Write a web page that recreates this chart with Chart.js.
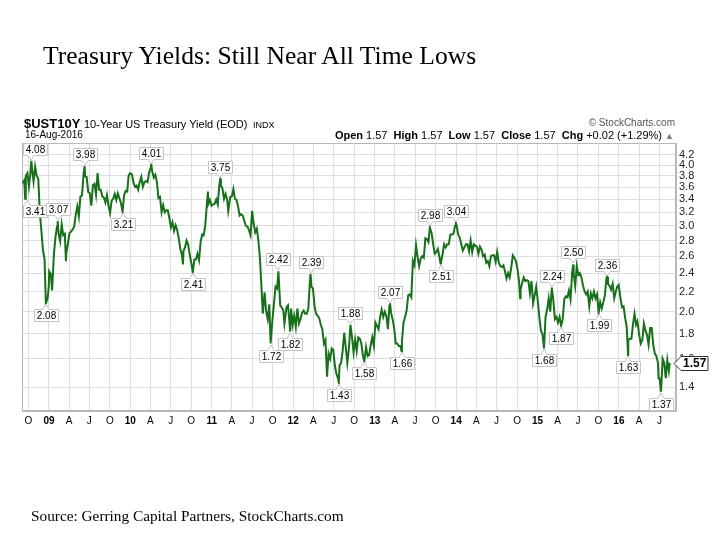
<!DOCTYPE html>
<html>
<head>
<meta charset="utf-8">
<script src="https://cdn.jsdelivr.net/npm/chart.js@4.4.1/dist/chart.umd.min.js"></script>
<style>
  body { margin: 0; background: #fff; }
  #wrap { position: relative; width: 720px; height: 540px; overflow: hidden; }
  #chart { position: absolute; left: 0; top: 0; }
  .t { position: absolute; white-space: nowrap; line-height: 1; font-family: "Liberation Sans", Arial, sans-serif; color: #000; }
  .serif { font-family: "Liberation Serif", "Times New Roman", serif; }
</style>
</head>
<body>
<div id="wrap">
  <canvas id="chart" width="720" height="540"></canvas>
  <div class="t serif" style="left:43px; top:43px; font-size:25.6px;">Treasury Yields: Still Near All Time Lows</div>
  <div class="t" style="left:24px; top:117px; font-size:13px; font-weight:bold;">$UST10Y</div>
  <div class="t" style="left:84px; top:119px; font-size:11px;">10-Year US Treasury Yield (EOD)</div>
  <div class="t" style="left:253px; top:121px; font-size:9px;">INDX</div>
  <div class="t" style="left:25px; top:130px; font-size:10px;">16-Aug-2016</div>
  <div class="t" style="right:45px; top:118px; font-size:10px; color:#555;">&copy; StockCharts.com</div>
  <div class="t" style="right:46px; top:130px; font-size:11px;"><b>Open</b> 1.57&nbsp; <b>High</b> 1.57&nbsp; <b>Low</b> 1.57&nbsp; <b>Close</b> 1.57&nbsp; <b>Chg</b> +0.02 (+1.29%) <span style="color:#777; font-size:9px;">&#9650;</span></div>
  <div class="t serif" style="left:31px; top:508px; font-size:15.3px;">Source: Gerring Capital Partners, StockCharts.com</div>
</div>
<script>
// Weekly closes (plus the marked turning points)
const dates = [
  // 2008
  '2008-09-05','2008-09-12','2008-09-16','2008-09-19','2008-09-26','2008-10-03','2008-10-10','2008-10-14','2008-10-17','2008-10-24',
  '2008-10-31','2008-11-07','2008-11-14','2008-11-21','2008-11-28','2008-12-05','2008-12-12','2008-12-18','2008-12-26','2008-12-31',
  // 2009
  '2009-01-02','2009-01-09','2009-01-15','2009-01-23','2009-01-30','2009-02-06','2009-02-09','2009-02-13','2009-02-20','2009-02-27',
  '2009-03-06','2009-03-13','2009-03-18','2009-03-20','2009-03-27','2009-04-03','2009-04-10','2009-04-17','2009-04-24',
  '2009-05-01','2009-05-08','2009-05-15','2009-05-22','2009-05-29','2009-06-05','2009-06-10','2009-06-12','2009-06-19','2009-06-26',
  '2009-07-03','2009-07-10','2009-07-17','2009-07-24','2009-07-31','2009-08-07','2009-08-14','2009-08-21','2009-08-28',
  '2009-09-04','2009-09-11','2009-09-18','2009-09-25','2009-10-02','2009-10-09','2009-10-16','2009-10-23','2009-10-30',
  '2009-11-06','2009-11-13','2009-11-20','2009-11-27','2009-12-04','2009-12-11','2009-12-18','2009-12-24','2009-12-31',
  // 2010
  '2010-01-08','2010-01-15','2010-01-22','2010-01-29','2010-02-05','2010-02-12','2010-02-19','2010-02-26',
  '2010-03-05','2010-03-12','2010-03-19','2010-03-26','2010-04-02','2010-04-05','2010-04-09','2010-04-16','2010-04-23','2010-04-30',
  '2010-05-07','2010-05-14','2010-05-21','2010-05-28','2010-06-04','2010-06-11','2010-06-18','2010-06-25',
  '2010-07-02','2010-07-09','2010-07-16','2010-07-23','2010-07-30','2010-08-06','2010-08-13','2010-08-20','2010-08-25','2010-08-27',
  '2010-09-03','2010-09-10','2010-09-17','2010-09-24','2010-10-01','2010-10-08','2010-10-15','2010-10-22','2010-10-29',
  '2010-11-05','2010-11-12','2010-11-19','2010-11-26','2010-12-03','2010-12-10','2010-12-15','2010-12-17','2010-12-24','2010-12-31',
  // 2011
  '2011-01-07','2011-01-14','2011-01-21','2011-01-28','2011-02-04','2011-02-08','2011-02-11','2011-02-18','2011-02-25',
  '2011-03-04','2011-03-11','2011-03-16','2011-03-25','2011-04-01','2011-04-08','2011-04-15','2011-04-22','2011-04-29',
  '2011-05-06','2011-05-13','2011-05-20','2011-05-27','2011-06-03','2011-06-10','2011-06-17','2011-06-24',
  '2011-07-01','2011-07-08','2011-07-15','2011-07-22','2011-07-29','2011-08-05','2011-08-12','2011-08-18','2011-08-26',
  '2011-09-02','2011-09-09','2011-09-16','2011-09-22','2011-09-30','2011-10-07','2011-10-14','2011-10-21','2011-10-27',
  '2011-11-04','2011-11-11','2011-11-18','2011-11-23','2011-12-02','2011-12-09','2011-12-19','2011-12-23','2011-12-30',
  // 2012
  '2012-01-06','2012-01-13','2012-01-20','2012-01-27','2012-02-03','2012-02-10','2012-02-17','2012-02-24',
  '2012-03-02','2012-03-09','2012-03-16','2012-03-19','2012-03-23','2012-03-30','2012-04-06','2012-04-13','2012-04-20','2012-04-27',
  '2012-05-04','2012-05-11','2012-05-18','2012-05-25','2012-06-01','2012-06-08','2012-06-15','2012-06-22','2012-06-29',
  '2012-07-06','2012-07-13','2012-07-20','2012-07-24','2012-07-27','2012-08-03','2012-08-10','2012-08-17','2012-08-24','2012-08-31',
  '2012-09-07','2012-09-14','2012-09-21','2012-09-28','2012-10-05','2012-10-12','2012-10-19','2012-10-26',
  '2012-11-02','2012-11-09','2012-11-15','2012-11-23','2012-11-30','2012-12-07','2012-12-14','2012-12-21','2012-12-28',
  // 2013
  '2013-01-04','2013-01-11','2013-01-18','2013-01-25','2013-02-01','2013-02-08','2013-02-15','2013-02-22',
  '2013-03-01','2013-03-08','2013-03-11','2013-03-15','2013-03-22','2013-03-29','2013-04-05','2013-04-12','2013-04-19','2013-04-26',
  '2013-05-01','2013-05-03','2013-05-10','2013-05-17','2013-05-24','2013-05-31','2013-06-07','2013-06-14','2013-06-21','2013-06-28',
  '2013-07-05','2013-07-12','2013-07-19','2013-07-26','2013-08-02','2013-08-09','2013-08-16','2013-08-23','2013-08-30',
  '2013-09-05','2013-09-13','2013-09-20','2013-09-27','2013-10-04','2013-10-11','2013-10-18','2013-10-23','2013-10-25',
  '2013-11-01','2013-11-08','2013-11-15','2013-11-22','2013-11-29','2013-12-06','2013-12-13','2013-12-20','2013-12-27','2013-12-31',
  // 2014
  '2014-01-03','2014-01-10','2014-01-17','2014-01-24','2014-01-31','2014-02-07','2014-02-14','2014-02-21','2014-02-28',
  '2014-03-07','2014-03-14','2014-03-21','2014-03-28','2014-04-04','2014-04-11','2014-04-18','2014-04-25',
  '2014-05-02','2014-05-09','2014-05-16','2014-05-23','2014-05-30','2014-06-06','2014-06-13','2014-06-20','2014-06-27',
  '2014-07-04','2014-07-11','2014-07-18','2014-07-25','2014-08-01','2014-08-08','2014-08-15','2014-08-22','2014-08-29',
  '2014-09-05','2014-09-12','2014-09-19','2014-09-26','2014-10-03','2014-10-10','2014-10-15','2014-10-17','2014-10-24','2014-10-31',
  '2014-11-07','2014-11-14','2014-11-21','2014-11-28','2014-12-05','2014-12-12','2014-12-19','2014-12-26',
  // 2015
  '2015-01-02','2015-01-09','2015-01-16','2015-01-23','2015-01-30','2015-02-06','2015-02-13','2015-02-20','2015-02-27',
  '2015-03-06','2015-03-13','2015-03-20','2015-03-27','2015-04-03','2015-04-10','2015-04-17','2015-04-24',
  '2015-05-01','2015-05-08','2015-05-15','2015-05-22','2015-05-29','2015-06-05','2015-06-10','2015-06-12','2015-06-19','2015-06-26',
  '2015-07-03','2015-07-10','2015-07-17','2015-07-24','2015-07-31','2015-08-07','2015-08-14','2015-08-21','2015-08-28',
  '2015-09-04','2015-09-11','2015-09-18','2015-09-25','2015-10-02','2015-10-09','2015-10-16','2015-10-23','2015-10-30',
  '2015-11-06','2015-11-09','2015-11-13','2015-11-20','2015-11-27','2015-12-04','2015-12-11','2015-12-18','2015-12-24','2015-12-31',
  // 2016
  '2016-01-08','2016-01-15','2016-01-22','2016-01-29','2016-02-05','2016-02-11','2016-02-12','2016-02-19','2016-02-26',
  '2016-03-04','2016-03-11','2016-03-18','2016-03-24','2016-04-01','2016-04-08','2016-04-15','2016-04-22','2016-04-29',
  '2016-05-06','2016-05-13','2016-05-20','2016-05-27','2016-06-03','2016-06-10','2016-06-17','2016-06-24','2016-06-27',
  '2016-07-01','2016-07-08','2016-07-15','2016-07-22','2016-07-29','2016-08-05','2016-08-12','2016-08-16'
];
const yields = [
  // 2008
  3.67, 3.72, 3.41, 3.80, 3.85, 3.61, 3.87, 4.08, 3.93, 3.70,
  3.97, 3.80, 3.75, 3.19, 2.93, 2.67, 2.57, 2.08, 2.13, 2.25,
  // 2009
  2.42, 2.39, 2.21, 2.62, 2.84, 2.99, 3.07, 2.89, 2.79, 3.02,
  2.87, 2.89, 2.54, 2.64, 2.76, 2.90, 2.92, 2.95, 2.99,
  3.16, 3.29, 3.14, 3.45, 3.46, 3.83, 3.98, 3.79, 3.78, 3.52,
  3.50, 3.30, 3.64, 3.66, 3.48, 3.85, 3.56, 3.56, 3.45,
  3.43, 3.35, 3.47, 3.30, 3.19, 3.38, 3.41, 3.49, 3.39,
  3.50, 3.42, 3.34, 3.21, 3.47, 3.54, 3.53, 3.80, 3.85,
  // 2010
  3.83, 3.68, 3.61, 3.63, 3.56, 3.69, 3.78, 3.61,
  3.69, 3.71, 3.69, 3.86, 3.95, 4.01, 3.88, 3.77, 3.82, 3.69,
  3.42, 3.44, 3.20, 3.31, 3.20, 3.23, 3.23, 3.11,
  2.98, 3.05, 2.93, 3.01, 2.94, 2.83, 2.69, 2.62, 2.50, 2.66,
  2.71, 2.80, 2.75, 2.62, 2.52, 2.41, 2.56, 2.56, 2.63,
  2.55, 2.78, 2.88, 2.87, 3.01, 3.32, 3.53, 3.33, 3.39, 3.30,
  // 2011
  3.32, 3.33, 3.40, 3.32, 3.64, 3.75, 3.63, 3.58, 3.41,
  3.49, 3.40, 3.22, 3.44, 3.45, 3.57, 3.41, 3.39, 3.29,
  3.15, 3.17, 3.15, 3.07, 3.00, 2.99, 2.94, 2.87,
  3.22, 3.03, 2.91, 2.96, 2.80, 2.58, 2.24, 1.98, 2.19,
  2.00, 1.93, 2.07, 1.72, 1.92, 2.08, 2.25, 2.23, 2.42,
  2.06, 2.04, 2.01, 1.89, 2.04, 2.06, 1.82, 2.03, 1.88,
  // 2012
  1.96, 1.86, 2.03, 1.89, 1.93, 1.99, 2.01, 1.98,
  1.98, 2.03, 2.30, 2.39, 2.25, 2.23, 2.05, 1.98, 1.96, 1.94,
  1.88, 1.84, 1.72, 1.75, 1.47, 1.64, 1.60, 1.68, 1.67,
  1.55, 1.49, 1.46, 1.43, 1.55, 1.57, 1.66, 1.81, 1.69, 1.57,
  1.68, 1.88, 1.77, 1.65, 1.75, 1.66, 1.77, 1.76,
  1.72, 1.62, 1.58, 1.69, 1.62, 1.63, 1.71, 1.77, 1.70,
  // 2013
  1.90, 1.87, 1.84, 1.95, 2.02, 1.95, 2.00, 1.96,
  1.84, 2.06, 2.07, 1.99, 1.93, 1.85, 1.72, 1.72, 1.70, 1.70,
  1.66, 1.74, 1.90, 1.95, 2.01, 2.16, 2.17, 2.14, 2.54, 2.49,
  2.74, 2.59, 2.48, 2.57, 2.60, 2.58, 2.83, 2.82, 2.78,
  2.98, 2.90, 2.75, 2.63, 2.65, 2.69, 2.59, 2.51, 2.53,
  2.62, 2.75, 2.71, 2.75, 2.75, 2.88, 2.88, 2.89, 3.00, 3.04,
  // 2014
  3.01, 2.88, 2.84, 2.75, 2.67, 2.71, 2.75, 2.75, 2.66,
  2.80, 2.65, 2.75, 2.73, 2.72, 2.63, 2.72, 2.68,
  2.60, 2.62, 2.52, 2.54, 2.48, 2.60, 2.61, 2.61, 2.53,
  2.65, 2.52, 2.48, 2.47, 2.49, 2.42, 2.34, 2.40, 2.35,
  2.46, 2.61, 2.58, 2.54, 2.45, 2.31, 2.13, 2.22, 2.29, 2.35,
  2.31, 2.32, 2.31, 2.18, 2.31, 2.08, 2.16, 2.25,
  // 2015
  2.11, 1.95, 1.83, 1.80, 1.68, 1.95, 2.02, 2.13, 2.00,
  2.24, 2.11, 1.93, 1.95, 1.90, 1.95, 1.87, 1.93,
  2.12, 2.15, 2.14, 2.21, 2.12, 2.40, 2.50, 2.39, 2.26, 2.48,
  2.38, 2.40, 2.35, 2.26, 2.20, 2.17, 2.20, 2.05, 2.18,
  2.13, 2.20, 2.13, 2.17, 1.99, 2.09, 2.03, 2.09, 2.16,
  2.34, 2.36, 2.28, 2.26, 2.22, 2.28, 2.13, 2.20, 2.25, 2.27,
  // 2016
  2.13, 2.04, 2.05, 1.94, 1.86, 1.63, 1.75, 1.76, 1.76,
  1.88, 1.98, 1.88, 1.91, 1.79, 1.72, 1.75, 1.89, 1.83,
  1.79, 1.71, 1.85, 1.85, 1.71, 1.64, 1.62, 1.57, 1.46,
  1.46, 1.37, 1.60, 1.57, 1.46, 1.59, 1.51, 1.57
];

// Marked highs and lows
const noteDates = ['2008-09-16','2008-10-14','2008-12-18','2009-02-09','2009-06-10','2009-11-27','2010-04-05','2010-10-08',
  '2011-02-08','2011-09-22','2011-10-27','2011-12-19','2012-03-19','2012-07-24','2012-09-14','2012-11-15','2013-03-11',
  '2013-05-01','2013-09-05','2013-10-23','2013-12-31','2015-01-30','2015-03-06','2015-04-17','2015-06-10','2015-10-02',
  '2015-11-09','2016-02-11','2016-07-08'];
const noteValues = [3.41, 4.08, 2.08, 3.07, 3.98, 3.21, 4.01, 2.41, 3.75, 1.72, 2.42, 1.82, 2.39, 1.43, 1.88, 1.58, 2.07,
  1.66, 2.98, 2.51, 3.04, 1.68, 2.24, 1.87, 2.50, 1.99, 2.36, 1.63, 1.37];
const notePlaces = ['below','above','below','above','above','below','above','below','above','below','above','below','above',
  'below','above','below','above','below','above','below','above','below','above','below','above','below','above','below','below'];

// Axis ticks
const tickDates = ['2008-10-01','2009-01-01','2009-04-01','2009-07-01','2009-10-01','2010-01-01','2010-04-01','2010-07-01',
  '2010-10-01','2011-01-01','2011-04-01','2011-07-01','2011-10-01','2012-01-01','2012-04-01','2012-07-01','2012-10-01',
  '2013-01-01','2013-04-01','2013-07-01','2013-10-01','2014-01-01','2014-04-01','2014-07-01','2014-10-01','2015-01-01',
  '2015-04-01','2015-07-01','2015-10-01','2016-01-01','2016-04-01','2016-07-01'];
const tickLabels = ['O','09','A','J','O','10','A','J','O','11','A','J','O','12','A','J','O','13','A','J','O','14','A','J',
  'O','15','A','J','O','16','A','J'];
const yTicks = [1.4, 1.6, 1.8, 2.0, 2.2, 2.4, 2.6, 2.8, 3.0, 3.2, 3.4, 3.6, 3.8, 4.0, 4.2];

const xStart = '2008-09-02', xEnd = '2016-09-13';
const yMin = 1.25, yMax = 4.44;
const lineColor = '#17701a';
const gridColor = '#dedede';
const frameColor = '#b8b8b8';

const points = dates.map((d, i) => ({ x: Date.parse(d), y: yields[i] }));

const notesPlugin = {
  id: 'notes',
  beforeDatasetsDraw(chart) {
    const { ctx, chartArea: a } = chart;
    ctx.save();
    ctx.strokeStyle = frameColor;
    ctx.lineWidth = 1;
    ctx.strokeRect(a.left + 0.5, a.top + 0.5, a.right - a.left - 1, a.bottom - a.top - 1);
    ctx.restore();
  },
  afterDatasetsDraw(chart) {
    const { ctx, chartArea: a, scales: { x, y } } = chart;
    ctx.save();
    ctx.font = '10px "Liberation Sans", Arial, sans-serif';
    ctx.textAlign = 'center';
    ctx.textBaseline = 'middle';
    ctx.lineWidth = 1;
    noteDates.forEach((d, i) => {
      const px = Math.round(x.getPixelForValue(Date.parse(d)));
      const py = Math.round(y.getPixelForValue(noteValues[i]));
      const txt = noteValues[i].toFixed(2);
      const w = Math.round(ctx.measureText(txt).width) + 5, h = 12;
      const up = notePlaces[i] === 'above';
      const bx = Math.round(Math.min(Math.max(px - w / 2, a.left + 1), a.right - w - 2)) + 0.5;
      const by = (up ? py - 6 - h : py + 6) + 0.5;
      const cx = Math.min(Math.max(px, bx + 4), bx + w - 4);
      ctx.beginPath();
      if (up) {
        ctx.moveTo(bx, by);
        ctx.lineTo(bx + w, by);
        ctx.lineTo(bx + w, by + h);
        ctx.lineTo(cx + 3, by + h);
        ctx.lineTo(cx, py - 1);
        ctx.lineTo(cx - 3, by + h);
        ctx.lineTo(bx, by + h);
      } else {
        ctx.moveTo(bx, by);
        ctx.lineTo(cx - 3, by);
        ctx.lineTo(cx, py + 1);
        ctx.lineTo(cx + 3, by);
        ctx.lineTo(bx + w, by);
        ctx.lineTo(bx + w, by + h);
        ctx.lineTo(bx, by + h);
      }
      ctx.closePath();
      ctx.fillStyle = '#fff';
      ctx.fill();
      ctx.strokeStyle = '#c4c4c4';
      ctx.stroke();
      ctx.fillStyle = '#000';
      ctx.fillText(txt, bx + w / 2, by + h / 2 + 0.5);
    });

    // last value tag on the price axis
    const last = yields[yields.length - 1];
    const ly = Math.round(y.getPixelForValue(last)) + 0.5;
    const r = a.right;
    ctx.beginPath();
    ctx.moveTo(r - 2, ly);
    ctx.lineTo(r + 5, ly - 7);
    ctx.lineTo(r + 32, ly - 7);
    ctx.lineTo(r + 32, ly + 7);
    ctx.lineTo(r + 5, ly + 7);
    ctx.closePath();
    ctx.fillStyle = '#fff';
    ctx.fill();
    ctx.strokeStyle = '#333';
    ctx.stroke();
    ctx.fillStyle = '#000';
    ctx.font = 'bold 12px "Liberation Sans", Arial, sans-serif';
    ctx.textAlign = 'left';
    ctx.fillText(last.toFixed(2), r + 7, ly + 0.5);
    ctx.restore();
  }
};

new Chart(document.getElementById('chart'), {
  type: 'line',
  data: {
    datasets: [{
      data: points,
      borderColor: lineColor,
      borderWidth: 2,
      pointRadius: 0,
      tension: 0,
      fill: false
    }]
  },
  options: {
    responsive: false,
    animation: false,
    layout: { padding: { left: 22, top: 143, right: 0, bottom: 0 } },
    plugins: { legend: { display: false }, tooltip: { enabled: false } },
    scales: {
      x: {
        type: 'linear',
        min: Date.parse(xStart),
        max: Date.parse(xEnd),
        afterBuildTicks: s => { s.ticks = tickDates.map(d => ({ value: Date.parse(d) })); },
        afterFit: s => { s.height = 129; },
        grid: { color: gridColor, drawTicks: false },
        border: { color: frameColor },
        ticks: {
          autoSkip: false,
          maxRotation: 0,
          padding: 4,
          color: '#000',
          font: c => ({ family: '"Liberation Sans", Arial, sans-serif', size: 10,
            weight: /\d/.test(tickLabels[c.index] || '') ? 'bold' : 'normal' }),
          callback: (v, i) => tickLabels[i]
        }
      },
      y: {
        type: 'logarithmic',
        position: 'right',
        min: yMin,
        max: yMax,
        afterBuildTicks: s => { s.ticks = yTicks.map(v => ({ value: v })); },
        afterFit: s => { s.width = 44; },
        grid: { color: gridColor, drawTicks: false },
        border: { color: frameColor },
        ticks: {
          autoSkip: false,
          padding: 3,
          color: '#222',
          font: { family: '"Liberation Sans", Arial, sans-serif', size: 11 },
          callback: v => v.toFixed(1)
        }
      }
    }
  },
  plugins: [notesPlugin]
});
</script>
</body>
</html>
